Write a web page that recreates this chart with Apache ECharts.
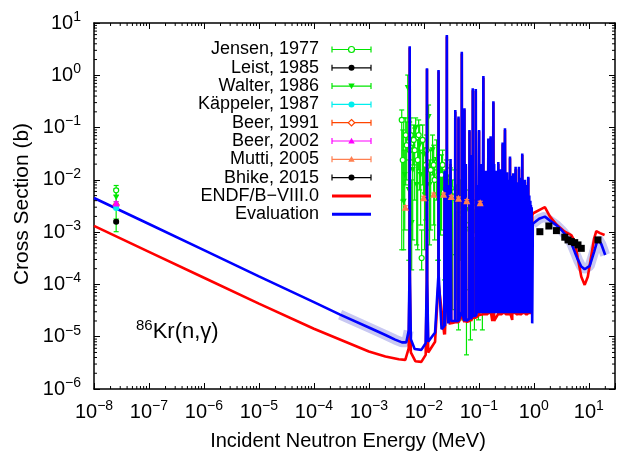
<!DOCTYPE html>
<html>
<head>
<meta charset="utf-8">
<script src="https://cdn.jsdelivr.net/npm/echarts@6/dist/echarts.min.js"></script>
<style>
  html, body { margin: 0; padding: 0; background: #fff; }
  #chart { width: 618px; height: 455px; }
</style>
</head>
<body>
<div id="chart"></div>
<script>
// ---- axis decades (tick labels are 10^n) ----
const xDecades = [-8, -7, -6, -5, -4, -3, -2, -1, 0, 1];
const yDecades = [-6, -5, -4, -3, -2, -1, 0, 1];
const xRange = [1e-8, 30];
const yRange = [1e-6, 10];

// ---- series names ----
const seriesNames = ['Jensen, 1977', 'Leist, 1985', 'Walter, 1986', 'K\u00e4ppeler, 1987',
  'Beer, 1991', 'Beer, 2002', 'Mutti, 2005', 'Bhike, 2015', 'ENDF/B\u2212VIII.0', 'Evaluation'];

// ---- experimental data: [E (MeV), sigma (b), sigma low, sigma high] ----
const jensen1977 = [
  [2.53e-8, 6.3e-3, 5.0e-3, 7.8e-3],
  [3.96e-3, 0.140, 4.6e-4, 0.217], [4.13e-3, 0.024, 4.1e-3, 0.090], [4.68e-3, 0.072, 8.0e-3, 0.153],
  [4.88e-3, 0.046, 9.96e-3, 0.128], [5.53e-3, 0.037, 1.10e-3, 0.128], [5.77e-3, 0.072, 0.024, 0.153],
  [6.53e-3, 0.058, 0.0193, 0.112], [6.81e-3, 0.037, 4.1e-3, 0.098], [7.72e-3, 0.024, 4.6e-4, 0.058],
  [8.05e-3, 0.072, 0.0155, 0.140], [9.12e-3, 3.2e-4, 1.9e-4, 1.10e-3], [9.51e-3, 0.058, 8.0e-3, 0.112],
  [1.08e-2, 0.0193, 1.71e-3, 0.041], [1.12e-2, 0.037, 4.1e-3, 0.072], [1.33e-2, 0.0155, 1.10e-3, 0.037],
  [1.51e-2, 0.0193, 1.37e-3, 0.046], [1.57e-2, 9.96e-3, 7.1e-4, 0.024],
  [1.85e-2, 0.0124, 2.9e-4, 0.030], [2.10e-2, 0.0124, 1.10e-3, 0.030], [2.19e-2, 0.0193, 6.4e-3, 0.037],
  [2.59e-2, 0.0109, 1.10e-3, 0.024],
  [3.06e-2, 7.0e-3, 7.1e-4, 0.0169], [3.61e-2, 5.9e-3, 3.7e-4, 0.0155], [4.27e-2, 2.65e-3, 1.35e-5, 6.4e-3],
  [5.04e-2, 2.13e-3, 2.1e-5, 5.1e-3], [5.96e-2, 1.37e-3, 4.5e-6, 4.1e-3], [7.04e-2, 1.10e-3, 8.7e-6, 3.3e-3],
  [8.32e-2, 8.8e-4, 1.35e-5, 2.65e-3], [9.84e-2, 7.1e-4, 2.1e-5, 2.13e-3], [0.116, 5.7e-4, 1.35e-5, 1.71e-3]
];
const leist1985 = [[2.53e-8, 1.58e-3, 1.50e-3, 1.66e-3]];
const walter1986 = [
  [2.53e-8, 4.6e-3, 3.8e-3, 6.8e-3], [2.53e-8, 1.6e-3, 1.02e-3, 2.9e-3],
  [4.30e-3, 3.8e-3, 4.6e-4, 0.153], [4.49e-3, 0.0124, 1.10e-3, 0.037], [5.09e-3, 0.571, 0.058, 1.01],
  [5.31e-3, 6.4e-3, 2.9e-4, 0.024], [6.01e-3, 1.50e-3, 1.9e-4, 9.96e-3], [6.27e-3, 0.0155, 7.1e-4, 0.046],
  [7.10e-3, 0.098, 0.058, 0.153], [7.41e-3, 8.0e-3, 5.7e-4, 0.024], [8.39e-3, 0.046, 6.4e-3, 0.112],
  [8.75e-3, 0.0124, 1.37e-3, 0.037], [9.91e-3, 0.030, 4.1e-3, 0.058], [1.03e-2, 5.1e-3, 4.6e-4, 0.0193],
  [1.22e-2, 0.160, 0.037, 0.270], [1.27e-2, 8.0e-3, 5.7e-4, 0.024], [1.44e-2, 0.037, 0.0124, 0.072],
  [1.71e-2, 0.024, 4.1e-3, 0.058], [1.78e-2, 5.1e-3, 2.9e-4, 0.0155],
  [2.01e-2, 8.0e-3, 8.8e-4, 0.0193], [2.38e-2, 6.4e-3, 1.22e-4, 0.0155], [2.48e-2, 4.1e-3, 1.9e-4, 0.0124],
  [2.81e-2, 5.1e-3, 5.1e-5, 0.0124],
  [3.33e-2, 4.1e-3, 3.3e-5, 9.96e-3], [3.93e-2, 3.3e-3, 5.1e-5, 8.0e-3], [4.64e-2, 4.5e-3, 2.9e-4, 9.96e-3],
  [5.48e-2, 3.3e-3, 1.9e-4, 8.0e-3], [6.48e-2, 2.65e-3, 7.9e-5, 6.4e-3], [7.66e-2, 1.71e-3, 5.1e-5, 4.1e-3],
  [9.05e-2, 1.37e-3, 3.3e-5, 3.3e-3], [0.107, 1.10e-3, 5.1e-5, 2.65e-3]
];
const kappeler1987 = [[2.53e-8, 2.9e-3, 2.7e-3, 3.1e-3]];
const beer1991 = [[2.53e-8, 3.3e-3, 3.1e-3, 3.5e-3]];
const beer2002 = [[2.53e-8, 3.6e-3, 3.4e-3, 3.8e-3]];
const mutti2005 = [
  [4.62e-3, 2.99e-3, 2.8e-3, 3.2e-3], [9.91e-3, 4.57e-3, 4.3e-3, 4.85e-3], [1.51e-2, 5.3e-3, 5.0e-3, 5.6e-3],
  [2.29e-2, 5.3e-3, 5.0e-3, 5.6e-3], [3.15e-2, 4.78e-3, 4.5e-3, 5.05e-3], [4.27e-2, 4.45e-3, 4.2e-3, 4.7e-3],
  [6.04e-2, 4.0e-3, 3.8e-3, 4.2e-3], [0.106, 3.66e-3, 3.45e-3, 3.9e-3]
];
const bhike2015 = [
  [1.29, 1.02e-3, 0.93e-3, 1.11e-3], [1.88, 1.31e-3, 1.2e-3, 1.42e-3], [2.58, 1.07e-3, 0.98e-3, 1.16e-3],
  [3.66, 8.0e-4, 7.3e-4, 8.7e-4], [4.2, 7.1e-4, 6.5e-4, 7.7e-4], [4.82, 6.6e-4, 6.0e-4, 7.2e-4],
  [5.55, 6.3e-4, 5.8e-4, 6.8e-4], [6.37, 5.7e-4, 5.2e-4, 6.2e-4], [7.31, 4.9e-4, 4.5e-4, 5.3e-4],
  [14.7, 7.1e-4, 6.5e-4, 7.7e-4]
];

// ---- evaluated curves: [E (MeV), sigma (b)] ----
const endfCurve = [
  [1e-8, 1.32e-3], [1e-7, 4.2e-4], [1e-6, 1.34e-4], [1e-5, 4.3e-5], [1e-4, 1.42e-5], [1e-3, 5.2e-6],
  [2e-3, 4.2e-6], [3.5e-3, 3.7e-6], [4.6e-3, 3.6e-6], [5.3e-3, 6e-6],
  [5.48e-3, 1e-4], [5.53e-3, 3.4], [5.58e-3, 1e-4], [5.8e-3, 5e-6], [7e-3, 3.4e-6], [9e-3, 3.3e-6], [1.08e-2, 4.5e-6],
  [1.13e-2, 1e-4], [1.14e-2, 1.3], [1.15e-2, 1e-4], [1.2e-2, 5e-6],
  [1.6e-2, 8e-6],
  [1.84e-2, 1e-4], [1.85e-2, 1.2], [1.86e-2, 1e-4],
  [2.35e-2, 1.1e-5], [2.38e-2, 1.2e-2], [2.42e-2, 1.1e-5],
  [2.60e-2, 1.5e-4], [2.62e-2, 5.5], [2.64e-2, 1.5e-4],
  [2.98e-2, 1.7e-5], [3.06e-2, 2e-2], [3.15e-2, 1.8e-5],
  [3.70e-2, 1.9e-5], [3.73e-2, 0.2], [3.76e-2, 1.9e-5],
  [4.24e-2, 1.9e-5], [4.27e-2, 0.15], [4.30e-2, 1.9e-5],
  [4.87e-2, 2.5e-5], [4.9e-2, 2.6], [4.93e-2, 2.5e-5],
  [5.45e-2, 1.9e-5], [5.48e-2, 0.22], [5.51e-2, 1.9e-5],
  [5.7e-2, 1.9e-5], [5.8e-2, 1.8e-2], [5.9e-2, 1.9e-5],
  [6.73e-2, 2.0e-5], [6.76e-2, 0.085], [6.8e-2, 2.0e-5],
  [7.0e-2, 2.0e-5], [7.1e-2, 2.5e-2], [7.2e-2, 2.0e-5],
  [7.73e-2, 2.3e-5], [7.76e-2, 0.52], [7.8e-2, 2.3e-5],
  [8.75e-2, 2.3e-5], [8.8e-2, 0.5], [8.85e-2, 2.3e-5],
  [0.100, 2.6e-5], [0.101, 0.085], [0.102, 2.6e-5],
  [0.120, 2.7e-5], [0.121, 0.9], [0.122, 2.7e-5],
  [0.145, 2.7e-5], [0.149, 0.058], [0.153, 2.7e-5],
  [0.161, 2.7e-5], [0.164, 0.064], [0.168, 2.7e-5],
  [0.176, 2.0e-5], [0.184, 0.3], [0.190, 2.0e-5],
  [0.224, 2.7e-5], [0.226, 0.02], [0.231, 2.7e-5],
  [0.264, 2.7e-5], [0.271, 0.048], [0.277, 2.7e-5],
  [0.291, 2.7e-5], [0.299, 0.09], [0.306, 2.7e-5],
  [0.364, 2.7e-5], [0.369, 0.026], [0.377, 2.7e-5],
  [0.405, 2.1e-5], [0.424, 0.012], [0.434, 2.7e-5],
  [0.456, 2.7e-5], [0.467, 0.016], [0.478, 2.7e-5],
  [0.525, 2.7e-5], [0.537, 0.016], [0.550, 2.7e-5],
  [0.603, 2.7e-5], [0.617, 0.03], [0.632, 2.7e-5],
  [0.684, 2.7e-5], [0.690, 0.009], [0.705, 2.7e-5],
  [0.772, 2.7e-5], [0.793, 0.011], [0.810, 2.7e-5],
  [0.876, 2.7e-5], [0.886, 3e-3], [0.900, 2.7e-5],
  [0.94, 2.1e-3], [0.975, 2.3e-3], [1.3, 2.7e-3], [1.59, 3.0e-3], [1.96, 2.0e-3], [2.58, 1.4e-3],
  [3.66, 1.02e-3], [4.82, 8.8e-4], [5.6, 6.5e-4], [6.3, 3.2e-4], [7.31, 1.4e-4], [8.43, 9.8e-5],
  [9.6, 1.4e-4], [11.0, 3.3e-4], [12.5, 7.5e-4], [13.7, 1.05e-3], [16.0, 9.6e-4], [19.4, 8.8e-4]
];

const evalCurve = [
  [1e-8, 4.5e-3], [1e-7, 1.43e-3], [1e-6, 4.52e-4], [1e-5, 1.43e-4], [1e-4, 4.6e-5], [3e-4, 2.65e-5], [1e-3, 1.5e-5],
  [2e-3, 1.08e-5], [3e-3, 8.8e-6], [4e-3, 7.8e-6], [4.8e-3, 7.8e-6], [5.3e-3, 1.3e-5],
  [5.48e-3, 1.5e-4], [5.53e-3, 3.6], [5.58e-3, 1.5e-4], [5.8e-3, 9e-6], [6.8e-3, 5.8e-6], [9e-3, 5.6e-6], [1.08e-2, 7.5e-6],
  [1.13e-2, 1.2e-4], [1.14e-2, 1.36], [1.15e-2, 1.2e-4], [1.2e-2, 8e-6],
  [1.6e-2, 1.2e-5],
  [1.84e-2, 1.5e-4], [1.85e-2, 1.26], [1.86e-2, 1.5e-4],
  [2.1e-2, 1.4e-5],
  [2.35e-2, 1.6e-5], [2.38e-2, 1.5e-2], [2.42e-2, 1.6e-5],
  [2.60e-2, 2e-4], [2.62e-2, 5.9], [2.64e-2, 2e-4],
  [2.78e-2, 1.8e-5], [2.81e-2, 8e-3], [2.85e-2, 1.8e-5],
  [2.98e-2, 1.9e-5], [3.06e-2, 2.5e-2], [3.15e-2, 2e-5],
  [3.70e-2, 2e-5], [3.73e-2, 0.217], [3.76e-2, 2e-5],
  [4.24e-2, 2e-5], [4.27e-2, 0.162], [4.30e-2, 2e-5],
  [4.87e-2, 3e-5], [4.9e-2, 2.82], [4.93e-2, 3e-5],
  [5.45e-2, 2e-5], [5.48e-2, 0.234], [5.51e-2, 2e-5],
  [5.7e-2, 2e-5], [5.8e-2, 2e-2], [5.9e-2, 2e-5],
  [6.73e-2, 2.2e-5], [6.76e-2, 0.09], [6.8e-2, 2.2e-5],
  [7.0e-2, 2.2e-5], [7.1e-2, 3e-2], [7.2e-2, 2.2e-5],
  [7.73e-2, 2.5e-5], [7.76e-2, 0.563], [7.8e-2, 2.5e-5],
  [8.75e-2, 2.5e-5], [8.8e-2, 0.547], [8.85e-2, 2.5e-5],
  [9.1e-2, 2.8e-5], [9.3e-2, 8e-3], [9.6e-2, 2.8e-5],
  [0.100, 2.8e-5], [0.101, 0.09], [0.102, 2.8e-5],
  [0.105, 2.8e-5], [0.108, 2e-2], [0.111, 2.8e-5], [0.113, 1e-2], [0.116, 2.8e-5],
  [0.120, 2.8e-5], [0.121, 0.97], [0.122, 2.8e-5],
  [0.126, 2.8e-5], [0.129, 6e-3], [0.132, 2.8e-5], [0.135, 1.5e-2], [0.138, 2.8e-5], [0.141, 4e-3],
  [0.145, 2.8e-5], [0.149, 0.062], [0.153, 2.8e-5], [0.157, 8e-3], [0.161, 2.8e-5], [0.164, 0.068],
  [0.168, 2.8e-5], [0.172, 1.2e-2], [0.176, 2.8e-5], [0.180, 5e-3], [0.183, 2.8e-5], [0.184, 0.32],
  [0.186, 2.8e-5], [0.190, 2e-2], [0.195, 2.8e-5], [0.200, 7e-3], [0.205, 2.8e-5], [0.210, 1.5e-2],
  [0.215, 2.8e-5], [0.220, 5e-3], [0.224, 2.8e-5], [0.226, 0.022], [0.231, 2.8e-5], [0.237, 9e-3],
  [0.242, 2.8e-5], [0.247, 1.6e-2], [0.252, 2.8e-5], [0.258, 6e-3], [0.264, 2.8e-5], [0.271, 0.052],
  [0.277, 2.8e-5], [0.284, 1e-2], [0.291, 2.8e-5], [0.299, 0.097], [0.306, 2.8e-5], [0.313, 8e-3],
  [0.320, 2.8e-5], [0.327, 1.4e-2], [0.335, 2.8e-5], [0.343, 5e-3], [0.351, 2.8e-5], [0.359, 1e-2],
  [0.364, 2.8e-5], [0.369, 0.028], [0.377, 2.8e-5], [0.386, 7e-3], [0.395, 2.8e-5], [0.404, 1.2e-2],
  [0.414, 2.8e-5], [0.424, 0.0134], [0.434, 2.8e-5], [0.445, 6e-3], [0.456, 2.8e-5], [0.467, 0.0179],
  [0.478, 2.8e-5], [0.490, 9e-3], [0.502, 2.8e-5], [0.514, 5e-3], [0.525, 2.8e-5], [0.537, 0.0179],
  [0.550, 2.8e-5], [0.563, 8e-3], [0.576, 2.8e-5], [0.590, 1.1e-2], [0.603, 2.8e-5], [0.617, 0.032],
  [0.632, 2.8e-5], [0.647, 7e-3], [0.662, 2.8e-5], [0.677, 5e-3], [0.684, 2.8e-5], [0.690, 0.01],
  [0.705, 2.8e-5], [0.722, 6e-3], [0.738, 2.8e-5], [0.755, 8e-3], [0.772, 2.8e-5], [0.793, 0.0115],
  [0.810, 2.8e-5], [0.828, 5e-3], [0.846, 2.8e-5], [0.865, 4e-3], [0.876, 2.8e-5], [0.886, 3.3e-3],
  [0.900, 2.8e-5], [0.915, 3e-3], [0.935, 1.8e-5],
  [0.96, 1.45e-3], [0.975, 1.48e-3], [1.25, 1.8e-3], [1.59, 1.98e-3], [2.09, 1.59e-3], [2.6, 1.35e-3],
  [3.18, 1.1e-3], [4.0, 8.3e-4], [4.82, 6.1e-4], [5.6, 4.1e-4], [6.37, 2.94e-4], [7.3, 2.2e-4],
  [8.43, 1.95e-4], [10.4, 2.26e-4], [12.5, 4.2e-4], [14.7, 7.6e-4], [17.0, 5.8e-4], [19.9, 3.66e-4]
];

// ---- drawing ----
const FONT = '"Liberation Sans", Arial, Helvetica, sans-serif';
const GREEN = '#00e600', BLACK = '#000000', CYAN = '#00eeee', ORANGERED = '#ff4500',
      MAGENTA = '#ff00ff', CORAL = '#ff7f50', RED = '#ff0000', BLUE = '#0000ff', BAND = '#c8c8f2';

// marker style for each experiment, in legend order
const expStyles = [
  { data: jensen1977,   color: GREEN,     marker: 'circle',   open: true,  size: 5, z: 3 },
  { data: leist1985,    color: BLACK,     marker: 'circle',   open: false, size: 6, z: 12 },
  { data: walter1986,   color: GREEN,     marker: 'triDown',  open: false, size: 6, z: 3 },
  { data: kappeler1987, color: CYAN,      marker: 'circle',   open: false, size: 6, z: 12 },
  { data: beer1991,     color: ORANGERED, marker: 'diamond',  open: true,  size: 6, z: 11 },
  { data: beer2002,     color: MAGENTA,   marker: 'triUp',    open: false, size: 7, z: 12 },
  { data: mutti2005,    color: CORAL,     marker: 'triUp',    open: false, size: 7, z: 12 },
  { data: bhike2015,    color: BLACK,     marker: 'rect',     open: false, size: 7, z: 12 }
];

const symbolPaths = {
  circle: 'circle',
  rect: 'rect',
  diamond: 'diamond',
  triUp: 'triangle',
  triDown: 'path://M0,0 L10,0 L5,9 Z'
};

function errBar(color) {
  return function (params, api) {
    const x = api.value(0);
    const lo = api.coord([x, api.value(2)]);
    const hi = api.coord([x, api.value(3)]);
    const c = 2.5;
    const st = { stroke: color, lineWidth: 1.2 };
    return {
      type: 'group',
      children: [
        { type: 'line', shape: { x1: lo[0], y1: lo[1], x2: hi[0], y2: hi[1] }, style: st },
        { type: 'line', shape: { x1: lo[0] - c, y1: lo[1], x2: lo[0] + c, y2: lo[1] }, style: st },
        { type: 'line', shape: { x1: hi[0] - c, y1: hi[1], x2: hi[0] + c, y2: hi[1] }, style: st }
      ]
    };
  };
}

// minor ticks at 2..9 x 10^n, drawn inside the frame on all four sides
const xMinor = [], yMinor = [];
xDecades.forEach(function (e) { for (let m = 2; m <= 9; m++) { const v = m * Math.pow(10, e); if (v <= xRange[1]) xMinor.push([v, 1]); } });
yDecades.forEach(function (e) { for (let m = 2; m <= 9; m++) { const v = m * Math.pow(10, e); if (v <= yRange[1]) yMinor.push([1, v]); } });

function minorTickX(params, api) {
  const p = api.coord([api.value(0), api.value(1)]);
  const cs = params.coordSys;
  const st = { stroke: '#000', lineWidth: 1 };
  return { type: 'group', children: [
    { type: 'line', shape: { x1: p[0], y1: cs.y + cs.height, x2: p[0], y2: cs.y + cs.height - 3 }, style: st },
    { type: 'line', shape: { x1: p[0], y1: cs.y, x2: p[0], y2: cs.y + 3 }, style: st }
  ] };
}
function minorTickY(params, api) {
  const p = api.coord([api.value(0), api.value(1)]);
  const cs = params.coordSys;
  const st = { stroke: '#000', lineWidth: 1 };
  return { type: 'group', children: [
    { type: 'line', shape: { x1: cs.x, y1: p[1], x2: cs.x + 3, y2: p[1] }, style: st },
    { type: 'line', shape: { x1: cs.x + cs.width, y1: p[1], x2: cs.x + cs.width - 3, y2: p[1] }, style: st }
  ] };
}

function powLabel(decades) {
  return function (v) {
    const e = Math.round(Math.log10(v));
    if (decades.indexOf(e) < 0 || Math.abs(v / Math.pow(10, e) - 1) > 1e-6) return '';
    return '{b|10}{s|' + String(e).replace('-', '\u2212') + '}';
  };
}
const labelRich = {
  b: { fontSize: 20, lineHeight: 26, fontFamily: FONT, color: '#000' },
  s: { fontSize: 14, lineHeight: 14, verticalAlign: 'top', fontFamily: FONT, color: '#000' }
};

function axisBase(range, pos) {
  return {
    type: 'log', logBase: 10, min: range[0], max: range[1], position: pos,
    splitNumber: 10,
    axisLine: { show: true, onZero: false, lineStyle: { color: '#000', width: 1.5 } },
    axisTick: { show: true, inside: true, length: 6, lineStyle: { color: '#000', width: 1 } },
    splitLine: { show: false },
    minorTick: { show: false }
  };
}

const xBottom = Object.assign(axisBase(xRange, 'bottom'), {
  axisLabel: { show: true, margin: 10, formatter: powLabel(xDecades), rich: labelRich, hideOverlap: false }
});
const xTop = Object.assign(axisBase(xRange, 'top'), { axisLabel: { show: false } });
const yLeft = Object.assign(axisBase(yRange, 'left'), {
  axisLabel: { show: true, margin: 13, formatter: powLabel(yDecades), rich: labelRich, hideOverlap: false }
});
const yRight = Object.assign(axisBase(yRange, 'right'), { axisLabel: { show: false } });

const series = [];

// uncertainty band of the evaluation
series.push({ type: 'line', data: evalCurve.filter(function (p) { return p[0] >= 2e-4 && p[0] <= 5.3e-3; }),
  showSymbol: false, lineStyle: { color: BAND, width: 10 }, z: 1, silent: true });
series.push({ type: 'line', data: evalCurve.filter(function (p) { return p[0] >= 0.96; }),
  showSymbol: false, lineStyle: { color: BAND, width: 10 }, z: 1, silent: true });

expStyles.forEach(function (s, i) {
  series.push({
    type: 'custom', name: seriesNames[i], data: s.data, encode: { x: 0, y: [1, 2, 3] },
    renderItem: errBar(s.color), z: s.z, silent: true
  });
  series.push({
    type: 'scatter', name: seriesNames[i], data: s.data.map(function (p) { return [p[0], p[1]]; }),
    symbol: symbolPaths[s.marker], symbolSize: s.size,
    itemStyle: { color: s.open ? '#ffffff' : s.color, borderColor: s.color, borderWidth: s.open ? 1.2 : 0, opacity: 1 },
    z: s.z + 0.5, silent: true
  });
});

series.push({ type: 'line', name: seriesNames[8], data: endfCurve, showSymbol: false,
  lineStyle: { color: RED, width: 2.6 }, z: 5, silent: true });
series.push({ type: 'line', name: seriesNames[9], data: evalCurve, showSymbol: false,
  lineStyle: { color: BLUE, width: 2.6 }, z: 6, silent: true });

series.push({ type: 'custom', data: xMinor, encode: { x: 0, y: 1 }, renderItem: minorTickX, z: 20, silent: true });
series.push({ type: 'custom', data: yMinor, encode: { x: 0, y: 1 }, renderItem: minorTickY, z: 20, silent: true });

// ---- legend drawn as graphic elements ----
const legendGraphics = [];
const legX = 319, legY0 = 49.5, legDy = 18.3, sampleX0 = 332, sampleX1 = 371;
function legendMarker(kind, cx, cy, color, open) {
  const st = { fill: open ? '#fff' : color, stroke: color, lineWidth: open ? 1.2 : 0 };
  const r = 3.2;
  if (kind === 'circle') return { type: 'circle', shape: { cx: cx, cy: cy, r: 3 }, style: st, z: 101 };
  if (kind === 'triUp') return { type: 'polygon', shape: { points: [[cx, cy - r], [cx - r, cy + r * 0.8], [cx + r, cy + r * 0.8]] }, style: st, z: 101 };
  if (kind === 'triDown') return { type: 'polygon', shape: { points: [[cx - r, cy - r * 0.8], [cx + r, cy - r * 0.8], [cx, cy + r]] }, style: st, z: 101 };
  if (kind === 'diamond') return { type: 'polygon', shape: { points: [[cx, cy - r], [cx + r, cy], [cx, cy + r], [cx - r, cy]] }, style: st, z: 101 };
  return { type: 'rect', shape: { x: cx - 3, y: cy - 3, width: 6, height: 6 }, style: st, z: 101 };
}
seriesNames.forEach(function (name, i) {
  const y = legY0 + i * legDy;
  legendGraphics.push({ type: 'text', x: legX, y: y, z: 100,
    style: { text: name, font: '18px ' + FONT, fill: '#000', textAlign: 'right', textVerticalAlign: 'middle' } });
  if (i < 8) {
    const s = expStyles[i];
    const st = { stroke: s.color, lineWidth: 1.2 };
    legendGraphics.push({ type: 'line', shape: { x1: sampleX0, y1: y, x2: sampleX1, y2: y }, style: st, z: 100 });
    legendGraphics.push({ type: 'line', shape: { x1: sampleX0, y1: y - 3, x2: sampleX0, y2: y + 3 }, style: st, z: 100 });
    legendGraphics.push({ type: 'line', shape: { x1: sampleX1, y1: y - 3, x2: sampleX1, y2: y + 3 }, style: st, z: 100 });
    legendGraphics.push(legendMarker(s.marker === 'rect' ? 'circle' : s.marker, (sampleX0 + sampleX1) / 2, y, s.color, s.open));
  } else {
    legendGraphics.push({ type: 'line', shape: { x1: sampleX0, y1: y, x2: sampleX1, y2: y },
      style: { stroke: i === 8 ? RED : BLUE, lineWidth: 3 }, z: 100 });
  }
});

// reaction label
legendGraphics.push({ type: 'text', x: 136, y: 318, z: 100,
  style: { text: '{s|86}{b|Kr(n,\u03b3)}', textVerticalAlign: 'top',
    rich: {
      s: { fontSize: 15, lineHeight: 15, verticalAlign: 'top', fontFamily: FONT, fill: '#000' },
      b: { fontSize: 22, lineHeight: 28, fontFamily: FONT, fill: '#000' }
    } } });

// axis titles
legendGraphics.push({ type: 'text', x: 348, y: 441, z: 100,
  style: { text: 'Incident Neutron Energy (MeV)', font: '20px ' + FONT, fill: '#000', textAlign: 'center', textVerticalAlign: 'middle' } });
legendGraphics.push({ type: 'text', x: 22, y: 204, rotation: Math.PI / 2, z: 100,
  style: { text: 'Cross Section (b)', font: '21px ' + FONT, fill: '#000', textAlign: 'center', textVerticalAlign: 'middle' } });

const chart = echarts.init(document.getElementById('chart'), null, { renderer: 'canvas' });
chart.setOption({
  animation: false,
  backgroundColor: '#ffffff',
  grid: { left: 94, right: 2, top: 23, bottom: 66, containLabel: false },
  xAxis: [xBottom, xTop],
  yAxis: [yLeft, yRight],
  series: series,
  graphic: legendGraphics
});
</script>
</body>
</html>
